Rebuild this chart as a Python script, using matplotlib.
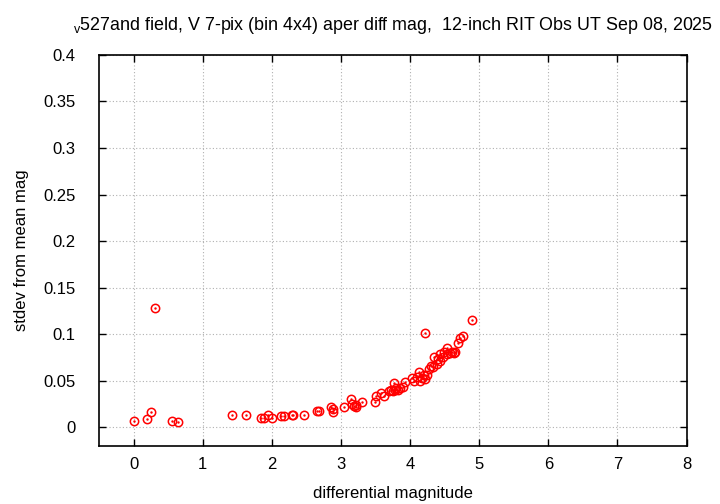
import matplotlib
matplotlib.use("Agg")
import matplotlib.pyplot as plt

plt.rcParams['font.family'] = ['Liberation Sans', 'DejaVu Sans']
plt.rcParams['mathtext.fontset'] = 'custom'
plt.rcParams['mathtext.rm'] = 'Liberation Sans'

# differential magnitude vs stdev
diff_mag = [0.00, 0.19, 0.25, 0.31, 0.56, 0.65, 1.43, 1.62, 1.85, 1.89,
            1.94, 2.01, 2.14, 2.17, 2.29, 2.31, 2.46, 2.66, 2.69, 2.85,
            2.89, 2.89, 3.04, 3.14, 3.16, 3.19, 3.22, 3.22, 3.31, 3.50,
            3.51, 3.58, 3.62, 3.70, 3.72, 3.76, 3.78, 3.77, 3.80, 3.82,
            3.86, 3.90, 3.93, 4.03, 4.06, 4.10, 4.13, 4.14, 4.17, 4.20,
            4.21, 4.25, 4.21, 4.28, 4.31, 4.33, 4.35, 4.39, 4.41, 4.43,
            4.44, 4.47, 4.49, 4.53, 4.54, 4.58, 4.61, 4.64, 4.65, 4.69,
            4.73, 4.76, 4.89]
stdev = [0.007, 0.009, 0.017, 0.128, 0.007, 0.006, 0.013, 0.013, 0.010, 0.010,
         0.013, 0.010, 0.012, 0.012, 0.013, 0.013, 0.013, 0.018, 0.018, 0.022,
         0.020, 0.017, 0.022, 0.030, 0.025, 0.023, 0.024, 0.022, 0.027, 0.027,
         0.034, 0.037, 0.034, 0.039, 0.040, 0.039, 0.040, 0.048, 0.042, 0.040,
         0.042, 0.043, 0.049, 0.053, 0.050, 0.054, 0.059, 0.050, 0.053, 0.056,
         0.052, 0.056, 0.101, 0.063, 0.066, 0.065, 0.076, 0.068, 0.073, 0.079,
         0.071, 0.076, 0.081, 0.085, 0.079, 0.080, 0.081, 0.080, 0.081, 0.091,
         0.096, 0.098, 0.115]

xticks = [0, 1, 2, 3, 4, 5, 6, 7, 8]
yticks = [0, 0.05, 0.1, 0.15, 0.2, 0.25, 0.3, 0.35, 0.4]
ytick_labels = ['0', '0.05', '0.1', '0.15', '0.2', '0.25', '0.3', '0.35', '0.4']

fig = plt.figure(figsize=(7.2, 5.04), dpi=100)
ax = fig.add_axes([0.1375, 0.115, 0.816, 0.776])

ax.plot(diff_mag, stdev, linestyle='none', marker='o', markersize=6,
        markerfacecolor='none', markeredgecolor='red', markeredgewidth=1.1)
ax.plot(diff_mag, stdev, linestyle='none', marker='.', markersize=1.5,
        color='red')

ax.set_xlim(-0.5, 8)
ax.set_ylim(-0.02, 0.4)
ax.set_xticks(xticks)
ax.set_yticks(yticks)
ax.set_yticklabels(ytick_labels)
ax.tick_params(direction='in', top=True, right=True, labelsize=12, length=5,
               width=1)
ax.tick_params(axis='x', pad=8)
ax.tick_params(axis='y', pad=17)
ax.grid(True, color='#b0b0b0', linestyle=(0, (1, 2)), linewidth=0.8)
for s in ax.spines.values():
    s.set_linewidth(1.2)

ax.set_xlabel('differential magnitude', fontsize=12, labelpad=10)
ax.set_ylabel('stdev from mean mag', fontsize=12, labelpad=10)
ax.set_title(r'$_{\mathrm{v}}$527and field, V 7-pix (bin 4x4) aper diff mag,  12-inch RIT Obs UT Sep 08, 2025',
             fontsize=12.9, pad=18)

fig.savefig('out.png', dpi=100)
